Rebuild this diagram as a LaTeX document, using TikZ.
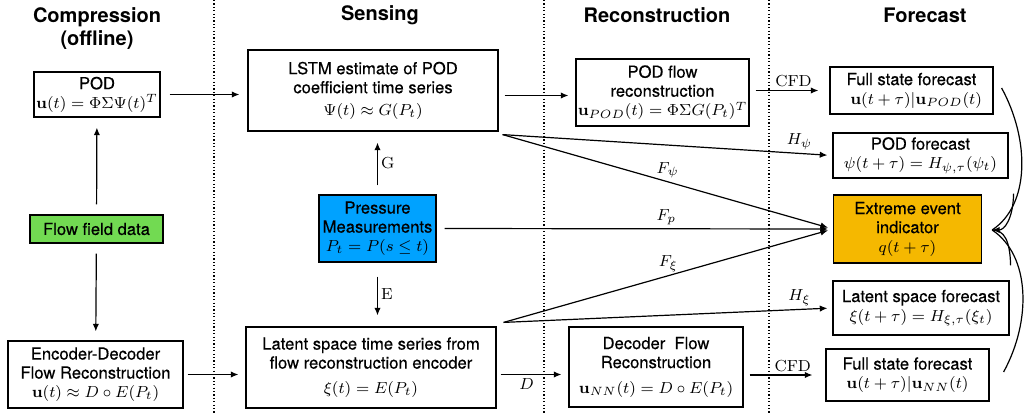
\documentclass[tikz,border=0pt]{standalone}
\usepackage{amsmath,amssymb}
\usepackage[no-math]{fontspec}
\setmainfont{TeX Gyre Heros}
\newfontfamily\boxfont{TeX Gyre Heros}[FakeBold=0.4]
\usetikzlibrary{arrows.meta}
\definecolor{flowgreen}{RGB}{114,218,82}
\definecolor{presblue}{RGB}{0,162,255}
\definecolor{eventorange}{RGB}{245,184,0}

\begin{document}
\begin{tikzpicture}[x=0.5pt,y=-0.5pt,
  box/.style={draw, line width=0.6pt, align=center, inner sep=0pt, font=\fontsize{8.3}{9.5}\selectfont\boxfont},
  head/.style={align=center, font=\fontsize{10}{11.5}\selectfont\bfseries},
  arr/.style={line width=0.6pt, -{Latex[length=3.8pt,width=3.2pt]}, shorten <=3pt, shorten >=3.5pt},
  fan/.style={line width=0.6pt, -{Latex[length=3.8pt,width=3.2pt]}, shorten >=2.5pt},
  curv/.style={line width=0.6pt},
  lab/.style={font=\fontsize{8.3}{9.5}\selectfont, inner sep=1.5pt},
  sep/.style={line width=0.7pt, dash pattern=on 0.6pt off 1.1pt}]
\useasboundingbox (0,0) rectangle (1028,413);
\draw[sep] (214,0) -- (214,413);
\draw[sep] (544,0) -- (544,413);
\draw[sep] (769,0) -- (769,413);
\node[head] (hcomp) at (97,28.5) {Compression\\(offline)};
\node[head] (hsens) at (380,15) {Sensing};
\node[head] (hrec) at (657,15) {Reconstruction};
\node[head] (hfc) at (925,15) {Forecast};
\node[box, minimum width=63pt, minimum height=22.5pt] (pod) at (97,94.5) {POD\\$\mathbf{u}(t)=\Phi\Sigma\Psi(t)^T$};
\node[box, fill=flowgreen, minimum width=66.5pt, minimum height=14pt] (flow) at (96.5,229) {Flow field data};
\node[box, minimum width=87.5pt, minimum height=33.5pt] (encdec) at (95.5,374.5) {Encoder-Decoder\\Flow Reconstruction\\$\mathbf{u}(t)\approx D\circ E(P_t)$};
\node[box, minimum width=125pt, minimum height=40.5pt] (lstm) at (373,90.5) {LSTM estimate of POD\\coefficient time series\\[1.5pt]$\Psi(t)\approx G(P_t)$};
\node[box, fill=presblue, minimum width=58.5pt, minimum height=33.5pt] (pres) at (377.5,228.5) {Pressure\\Measurements\\$P_t=P(s\leq t)$};
\node[box, minimum width=125pt, minimum height=40.5pt] (latent) at (371,367.5) {Latent space time series from\\flow reconstruction encoder\\[3pt]$\xi(t)=E(P_t)$};
\node[box, minimum width=86.5pt, minimum height=33.5pt] (podrec) at (662.5,92.5) {POD flow\\reconstruction\\$\mathbf{u}_{POD}(t)=\Phi\Sigma G(P_t)^T$};
\node[box, minimum width=87pt, minimum height=40pt] (decrec) at (656,367) {Decoder\ \ Flow\\Reconstruction\\[3pt]$\mathbf{u}_{NN}(t)=D\circ E(P_t)$};
\node[box, minimum width=81.5pt, minimum height=23.5pt] (fullpod) at (911.5,90.5) {Full state forecast\\\ \ $\mathbf{u}(t+\tau)|\mathbf{u}_{POD}(t)$};
\node[box, minimum width=87.5pt, minimum height=22.5pt] (podfc) at (920.5,155.5) {POD forecast\\$\psi(t+\tau)=H_{\psi,\tau}(\psi_t)$};
\node[box, fill=eventorange, minimum width=74pt, minimum height=34pt] (event) at (907.5,229) {Extreme event\\indicator\\$q(t+\tau)$};
\node[box, minimum width=88pt, minimum height=27pt] (latfc) at (921,308) {Latent space forecast\\$\xi(t+\tau)=H_{\xi,\tau}(\xi_t)$};
\node[box, minimum width=81.5pt, minimum height=26pt] (fullnn) at (907.5,375) {Full state forecast\\$\mathbf{u}(t+\tau)|\mathbf{u}_{NN}(t)$};
\draw[arr, shorten <=5pt, shorten >=5pt] (flow) -- (pod);
\draw[arr, shorten <=5pt, shorten >=4.5pt] (flow) -- (encdec);
\draw[arr, shorten <=4.5pt, shorten >=4pt] (pod.east) -- (pod.east -| lstm.west);
\draw[arr, shorten <=2pt] (encdec.east) -- (encdec.east -| latent.west);
\draw[arr, shorten <=4.5pt, shorten >=5.5pt] (pres.north) -- (pres.north |- lstm.south) node[lab, midway, right] {$\mathrm{G}$};
\draw[arr, shorten <=7pt, shorten >=5.5pt] (pres.south) -- (pres.south |- latent.north) node[lab, midway, right] {$\mathrm{E}$};
\draw[arr] ([yshift=-2.5pt]lstm.east) -- ([yshift=-2.5pt]lstm.east -| podrec.west);
\draw[arr, shorten <=2pt] ([yshift=-3.5pt]latent.east) -- ([yshift=-3.5pt]latent.east -| decrec.west) node[lab, midway, below, xshift=-3pt] {$D$};
\draw[arr, shorten >=5.5pt] (fullpod.west -| podrec.east) -- (fullpod.west) node[lab, above, pos=0.55] {$\mathrm{CFD}$};
\draw[arr, shorten >=6.5pt] (fullnn.west -| decrec.east) -- (fullnn.west) node[lab, above, pos=0.6] {$\mathrm{CFD}$};
\coordinate (psi) at ([xshift=2pt,yshift=-1.5pt]lstm.south east);
\coordinate (xi) at ([xshift=3.5pt,yshift=2pt]latent.north east);
\draw[fan] (psi) -- (podfc.west) node[lab, above, pos=0.9] {$H_\psi$};
\draw[fan] (psi) -- (event.west) node[lab, above, pos=0.5] {$F_\psi$};
\draw[fan, shorten <=4pt] (pres.east) -- (event.west) node[lab, above, pos=0.58] {$F_p$};
\draw[fan] (xi) -- (event.west) node[lab, above, pos=0.5] {$F_\xi$};
\draw[fan] (xi) -- (latfc.west) node[lab, above, pos=0.9] {$H_\xi$};
\coordinate (tip) at ([xshift=5pt,yshift=-0.5pt]event.east);
\coordinate (c1) at ([xshift=4pt,yshift=1.25pt]fullpod.east);
\coordinate (c2) at ([xshift=2.5pt,yshift=-7.5pt]podfc.south east);
\coordinate (c3) at ([xshift=0.5pt,yshift=7.5pt]latfc.north east);
\coordinate (c4) at ([xshift=7pt,yshift=1.5pt]fullnn.east);
\draw[curv] (c1) .. controls (1030,140) and (1030,205) .. (tip);
\draw[curv, -{Latex[length=3.8pt,width=3.2pt]}] (c2) .. controls (1013,220) and (1004,230) .. (tip);
\draw[curv] (c3) .. controls (1010,240) and (1004,230) .. (tip);
\draw[curv] (c4) .. controls (1032,320) and (1030,255) .. (tip);
\end{tikzpicture}
\end{document}
